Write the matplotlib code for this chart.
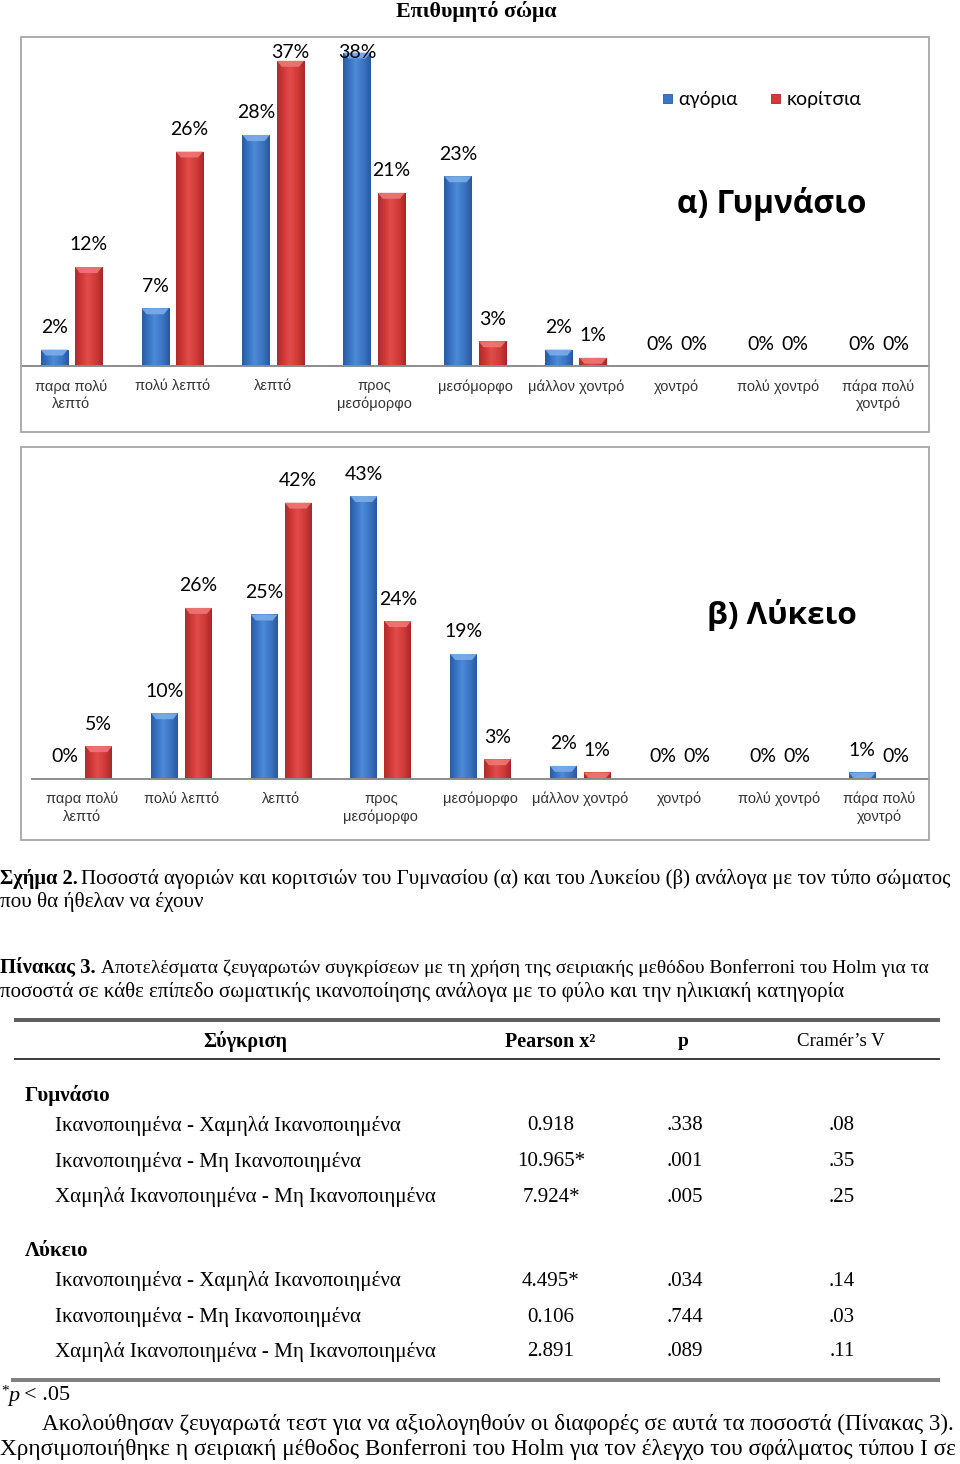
import matplotlib
matplotlib.use('Agg')
import matplotlib.pyplot as plt
import numpy as np
from matplotlib.colors import LinearSegmentedColormap
from matplotlib.patches import Rectangle, Polygon
from matplotlib.lines import Line2D

W, H = 960, 1464

# chart data
categories = ['παρα πολύ\nλεπτό', 'πολύ λεπτό', 'λεπτό', 'προς\nμεσόμορφο', 'μεσόμορφο',
              'μάλλον χοντρό', 'χοντρό', 'πολύ χοντρό', 'πάρα πολύ\nχοντρό']
gym_boys = [2, 7, 28, 38, 23, 2, 0, 0, 0]
gym_girls = [12, 26, 37, 21, 3, 1, 0, 0, 0]
lyk_boys = [0, 10, 25, 43, 19, 2, 0, 0, 1]
lyk_girls = [5, 26, 42, 24, 3, 1, 0, 0, 0]
series_names = ['αγόρια', 'κορίτσια']

# table data
comparisons = ['Ικανοποιημένα - Χαμηλά Ικανοποιημένα',
               'Ικανοποιημένα - Μη Ικανοποιημένα',
               'Χαμηλά Ικανοποιημένα - Μη Ικανοποιημένα']
gym_chi = ['0.918', '10.965*', '7.924*']
gym_p = ['.338', '.001', '.005']
gym_v = ['.08', '.35', '.25']
lyk_chi = ['4.495*', '0.106', '2.891']
lyk_p = ['.034', '.744', '.089']
lyk_v = ['.14', '.03', '.11']

blue_cmap = LinearSegmentedColormap.from_list('b', [(0, '#2a5ba3'), (0.25, '#3a76c6'), (0.45, '#4d8ad8'),
                                                    (0.75, '#3a74c2'), (1, '#2a589e')])
red_cmap = LinearSegmentedColormap.from_list('r', [(0, '#b02a2a'), (0.25, '#d23a3a'), (0.45, '#e24c4a'),
                                                   (0.75, '#cf3a38'), (1, '#a82828')])
blue_top = '#7fb0ea'
red_top = '#f07a78'

fig = plt.figure(figsize=(W / 100, H / 100), dpi=100)
renderer = fig.canvas.get_renderer()


def fx(x):
    return x / W


def fy(y):
    return 1 - y / H


def put(x, y, s, width=None, size=12, ha='left', **kw):
    t = fig.text(fx(x), fy(y), s, fontsize=size, ha=ha, va='center', **kw)
    if width:
        bb = t.get_window_extent(renderer)
        t.set_fontsize(size * width / bb.width)
    return t


def fit_size(s, width, **kw):
    t = put(-500, -500, s, width=width, size=12, **kw)
    size = t.get_fontsize()
    t.remove()
    return size


def hline(x0, x1, y, lw, color):
    fig.add_artist(Line2D([fx(x0), fx(x1)], [fy(y), fy(y)], transform=fig.transFigure,
                          lw=lw * 0.72, color=color, solid_capstyle='butt'))


grad = np.linspace(0, 1, 64).reshape(1, -1)
cat_size = fit_size('μάλλον χοντρό', 96, family='Liberation Sans')
label_font = ['Lato', 'DejaVu Sans']


def gradient_bars(ax, xs, vals, cmap, top_color, ppx, ppy):
    bars = ax.bar(xs, vals, width=0.27, color=cmap(0.4), zorder=2)
    for b in bars:
        x0, w, h = b.get_x(), b.get_width(), b.get_height()
        if h <= 0:
            continue
        im = ax.imshow(grad, extent=[x0, x0 + w, 0, h], cmap=cmap, aspect='auto',
                       interpolation='bicubic', zorder=2.1)
        im.set_clip_path(b)
        e = min(6 / ppy, h)
        d = min(5 / ppx, w / 2)
        ax.add_patch(Polygon([(x0, h), (x0 + w, h), (x0 + w - d, h - e), (x0 + d, h - e)],
                             fc=top_color, ec='none', zorder=2.2, alpha=0.85))


def chart(left, right, top, base, box, ymax, boys, girls, clamp_y):
    ax = fig.add_axes([fx(left), fy(base), (right - left) / W, (base - top) / H])
    ppx = (right - left) / len(categories)
    ppy = (base - top) / ymax
    x = np.arange(len(categories))
    gradient_bars(ax, x - 0.17, boys, blue_cmap, blue_top, ppx, ppy)
    gradient_bars(ax, x + 0.17, girls, red_cmap, red_top, ppx, ppy)
    ax.set_xlim(-0.5, len(categories) - 0.5)
    ax.set_ylim(0, ymax)
    ax.axis('off')
    ax.axhline(0, color='#8c8c8c', lw=1.4, zorder=3, clip_on=False)
    lim = (base - clamp_y) / ppy
    for xs, vals in ((x - 0.17, boys), (x + 0.17, girls)):
        for xi, v in zip(xs, vals):
            ax.text(xi, min(v + 22 / ppy, lim), f'{v}%', ha='center', va='center',
                    fontsize=14, family=label_font, color='black', zorder=4)
    for xi, lab in zip(x, categories):
        ax.text(xi, -13 / ppy, lab, ha='center', va='top', fontsize=cat_size, linespacing=1.3,
                family='Liberation Sans', color='#333333', clip_on=False)
    bx0, by0, bx1, by1 = box
    fig.add_artist(Rectangle((fx(bx0), fy(by1)), (bx1 - bx0) / W, (by1 - by0) / H,
                             transform=fig.transFigure, fill=False, ec='#a6a6a6', lw=1.3))
    return ax


# chart a) Gymnasio
ax1 = chart(21, 929, 36, 366, (21, 37, 929, 432), 40, gym_boys, gym_girls, 53)
put(476, 12, 'Επιθυμητό σώμα', width=161, size=15, ha='center', family='Liberation Serif', weight='bold')
put(772, 204, 'α) Γυμνάσιο', width=189, size=21, ha='center', family=['Open Sans', 'DejaVu Sans'], weight='bold')
# legend
fig.add_artist(Rectangle((fx(663), fy(103)), 9 / W, 9 / H, transform=fig.transFigure, fc='#3a76c6', ec='#2a5ba3', lw=0.6))
fig.add_artist(Rectangle((fx(771), fy(103)), 9 / W, 9 / H, transform=fig.transFigure, fc='#d23a3a', ec='#a82828', lw=0.6))
put(678, 99, series_names[0], width=60, size=14, family=label_font)
put(787, 99, series_names[1], width=75, size=14, family=label_font)

# chart b) Lykeio
ax2 = chart(32, 929, 447, 779, (21, 447, 929, 840), 50.45, lyk_boys, lyk_girls, 0)
put(782, 615, 'β) Λύκειο', width=149, size=21, ha='center', family=['Open Sans', 'DejaVu Sans'], weight='bold')

# captions
serif = 'Liberation Serif'
put(0, 879, 'Σχήμα 2.', width=77, size=13, family=serif, weight='bold')
put(81, 879, 'Ποσοστά αγοριών και κοριτσιών του Γυμνασίου (α) και του Λυκείου (β) ανάλογα με τον τύπο σώματος',
    width=861, size=13, family=serif)
put(0, 902, 'που θα ήθελαν να έχουν', width=203, size=13, family=serif)
put(0, 968, 'Πίνακας 3.', width=95, size=13, family=serif, weight='bold')
put(101, 968, 'Αποτελέσματα ζευγαρωτών συγκρίσεων με τη χρήση της σειριακής μεθόδου Bonferroni του Holm για τα',
    width=820, size=13, family=serif)
put(0, 992, 'ποσοστά σε κάθε επίπεδο σωματικής ικανοποίησης ανάλογα με το φύλο και την ηλικιακή κατηγορία',
    width=840, size=13, family=serif)

# table
hline(14, 940, 1020, 4, '#5f5f5f')
hline(14, 940, 1059, 1.5, 'black')
hline(11, 940, 1380, 4, '#808080')
put(245, 1042, 'Σύγκριση', width=84, size=13, ha='center', family=serif, weight='bold')
put(550, 1042, 'Pearson x²', width=90, size=13, ha='center', family=serif, weight='bold')
put(683, 1042, 'p', size=14, ha='center', family=serif, weight='bold')
put(841, 1042, 'Cramér’s V', width=88, size=13, ha='center', family=serif)

row_size = fit_size(comparisons[0], 345, family=serif)

put(25, 1096, 'Γυμνάσιο', size=row_size, family=serif, weight='bold')
put(25, 1251, 'Λύκειο', size=row_size, family=serif, weight='bold')
for rows_y, chi, p, v in (((1126, 1162, 1197), gym_chi, gym_p, gym_v),
                          ((1281, 1317, 1352), lyk_chi, lyk_p, lyk_v)):
    for y, comp, c, pv, vv in zip(rows_y, comparisons, chi, p, v):
        put(55, y, comp, size=row_size, family=serif)
        put(551, y, c, size=row_size, ha='center', family=serif)
        put(685, y, pv, size=row_size, ha='center', family=serif)
        put(842, y, vv, size=row_size, ha='center', family=serif)

# footnote
t = put(1, 1391, '*', size=11, family=serif)
x = 1 + t.get_window_extent(renderer).width
t = put(x, 1396, 'p', size=16, family=serif, style='italic')
x += t.get_window_extent(renderer).width + 4
put(x, 1396, '< .05', size=16, family=serif)

# paragraph
put(42, 1424, 'Ακολούθησαν ζευγαρωτά τεστ για να αξιολογηθούν οι διαφορές σε αυτά τα ποσοστά (Πίνακας 3).',
    width=915, size=16, family=serif)
put(0, 1450, 'Χρησιμοποιήθηκε η σειριακή μέθοδος Bonferroni του Holm για τον έλεγχο του σφάλματος τύπου Ι σε',
    width=957, size=16, family=serif)

fig.savefig('out.png', dpi=100)
